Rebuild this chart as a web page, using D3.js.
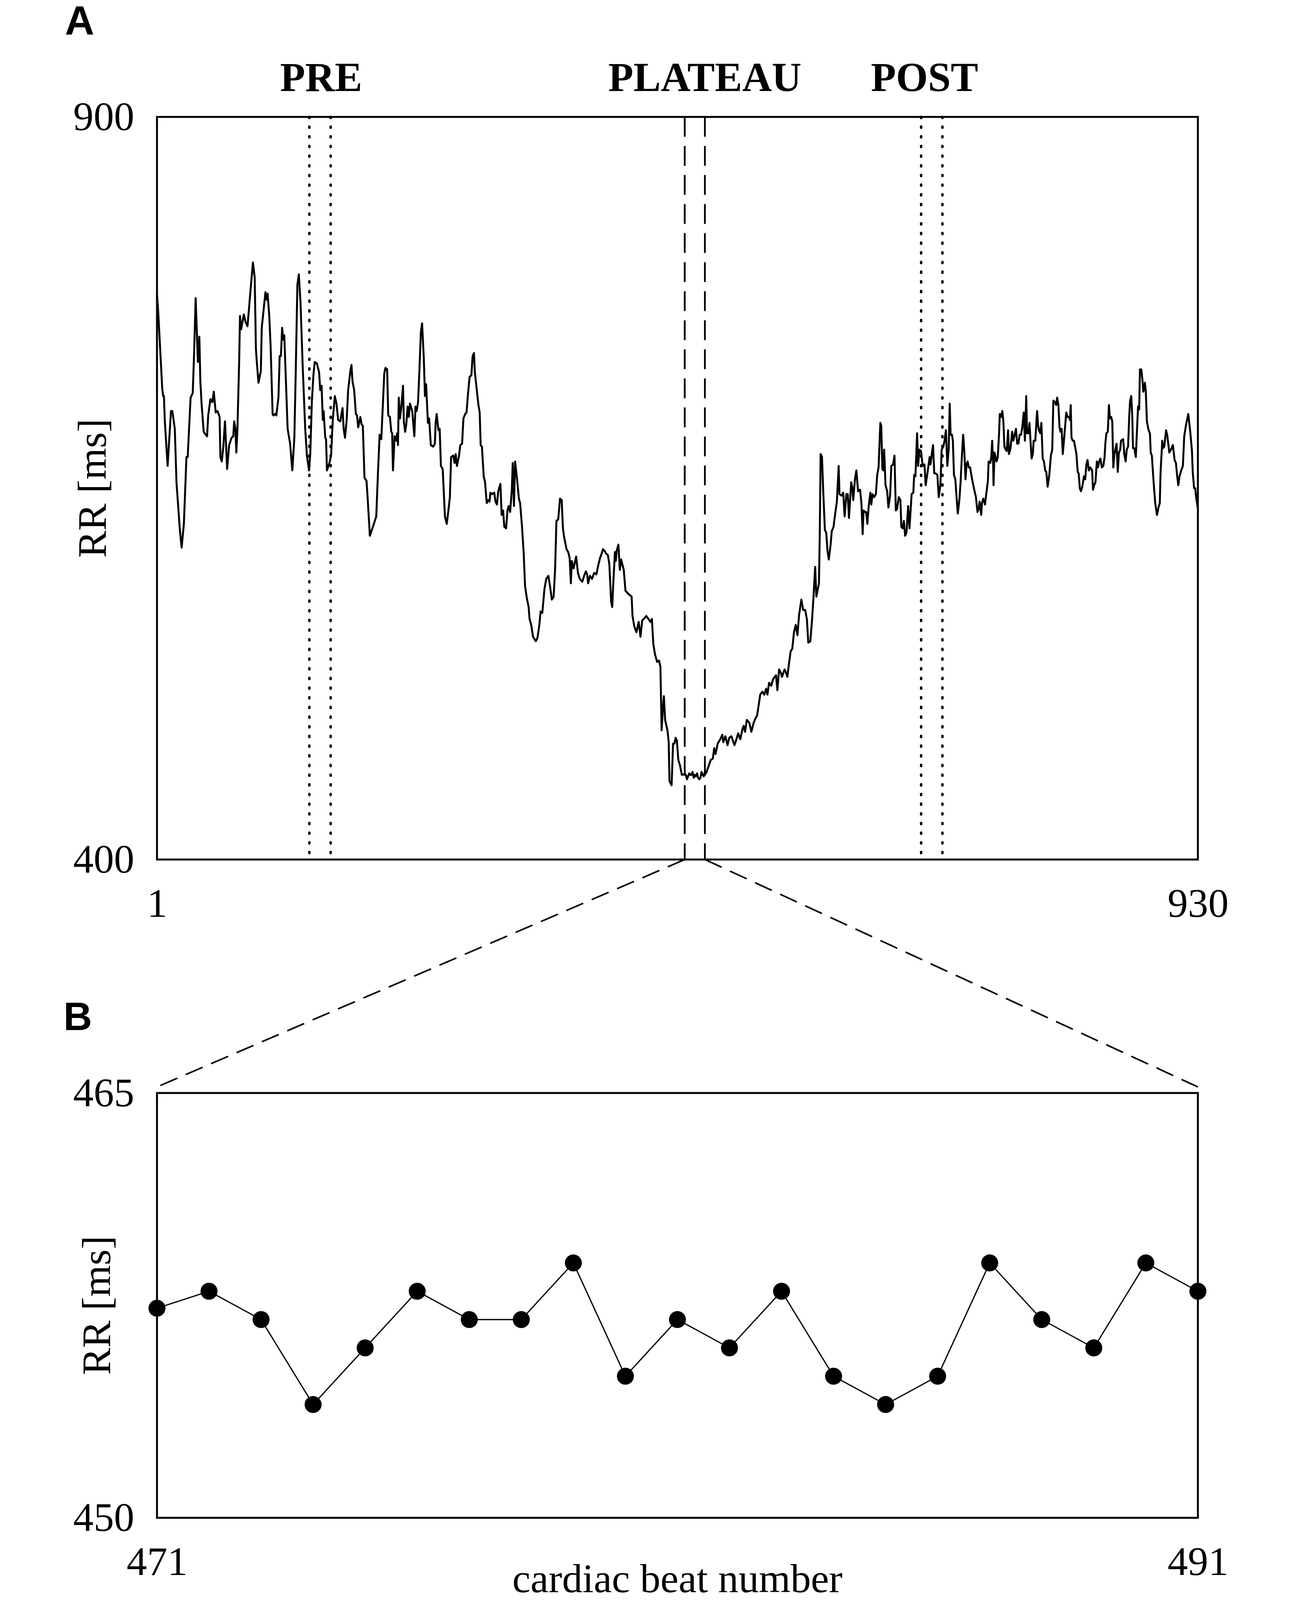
<!DOCTYPE html>
<html>
<head>
<meta charset="utf-8">
<script src="https://d3js.org/d3.v7.min.js"></script>
<style>
html,body{margin:0;padding:0;background:#fff;overflow:hidden;}
#chart{width:100vw;height:100vh;}
svg{display:block;width:100%;height:100%;}
</style>
</head>
<body>
<div id="chart"></div>
<script>
var width=3301;
var height=4516;
var serif='"Liberation Serif","Times New Roman",serif';
var sans='"Liberation Sans",Arial,sans-serif';

// ---------------- data ----------------
var domainBeatA=[1,930];
var domainRRA=[400,900];
var domainBeatB=[471,491];
var domainRRB=[450,465];

var tickBeatA=[1,930];
var tickRRA=[400,900];
var tickBeatB=[471,491];
var tickRRB=[450,465];

var windowNames=["PRE","PLATEAU","POST"];
var windowBeats=[[137,156],[472,490],[683,702]];
var windowStyle=["dot","dash","dot"];
var windowLabelBeat=[147.5,490,686];

// zoom panel B, beat by beat
var beatsB=[471,472,473,474,475,476,477,478,479,480,481,482,483,484,485,486,487,488,489,490,491];
var rrB=[457.4,458,457,454,456,458,457,457,459,455,457,456,458,455,454,455,459,457,456,459,458];

// panel A trace, [beat, RR ms]
var traceA1=[[1,780],[2,770],[5.7,717],[6.5,712],[7.2,712],[8,695],[10.5,665],[13.5,702],[14.7,702],[16.9,690],[18.4,654],[21.4,622],[23,610],[25,626],[27.3,671],[28.4,671],[31,711],[32.9,714],[34.1,740],[35.5,778],[36.7,753],[37.5,735],[38.8,752],[39.7,722],[40.8,707],[42.7,688],[44.5,686],[45.7,685],[46.7,699],[48.7,710],[50.5,708],[51.7,715],[53.4,701],[55,702],[56.9,698],[57.6,671],[58.8,668],[60.2,678],[61.7,695],[63.6,663],[65.4,679],[67.6,684],[69.1,685],[69.9,695],[71,690],[71.8,674],[72.8,690],[74.3,734],[75.1,766],[76.1,757],[78.5,767],[80,762],[81.8,759],[84,779],[86.6,802],[88.2,792],[89.3,744],[90,736],[91.6,721],[93.7,729],[94.5,758],[97.8,782],[98.5,777],[99.7,781],[101.2,766],[102.4,746],[104.2,700],[104.9,699],[106.4,700],[107.5,699],[109.4,711],[110.5,739],[111.6,739],[112.7,758],[113.6,750],[114.6,753],[117.6,690],[119.8,680],[121.8,662],[123.6,684],[124.8,727],[126.3,787],[127.6,794],[129.1,775],[131,733],[133.3,690],[134.8,672],[136.7,662],[137.8,673],[139.2,708],[140.7,727],[141.8,735],[143.7,734],[145.7,728],[146.7,716],[147.9,719],[149,696],[149.7,702],[151.2,684],[151.9,683],[152.7,662],[154.9,667],[156.4,672],[157.9,696],[159.7,712],[161.2,707],[162.7,696],[164.6,695],[166.6,704],[167.6,690],[168.8,684],[170.3,696],[171.6,716],[173.6,729],[174.6,733],[175.5,722],[177,716],[178.5,700],[179.5,699],[180.6,691],[182.5,698],[183.6,693],[184.7,692],[186.2,657],[188,655],[189.2,641],[191,618],[193.7,624],[196.7,631],[198.2,660],[199.7,686],[201.2,683],[202.7,708],[203.8,727],[204.9,731],[206.4,730],[207.4,699],[208.9,698],[210.1,688],[210.9,687],[211.6,662],[213.1,685],[214.6,682],[215.3,687],[216.1,679],[216.8,711],[217.9,697],[219.1,705],[220.6,719],[221.3,695],[222.5,688],[223.5,693],[224.7,705],[225.8,698],[226.8,707],[228.8,702],[230.7,685]];

var traceA2=[[231.7,705],[232.8,702],[234,708],[235.2,729],[236.5,755],[237.6,761],[239.1,738],[240.2,712],[241.2,720],[242.8,694],[243.9,697],[245.4,679],[247.5,678],[249,680],[249.7,694],[250.6,700],[252.2,689],[253.3,690],[254.4,665],[256,663],[258,631],[259.6,626],[261.1,635],[262.4,644],[263.5,671],[265.4,672],[266.6,667],[267.6,673],[268.7,665],[270.6,672],[271.7,679],[273.3,680],[274.5,697],[276.1,700],[277.3,701],[278.4,712],[280,725],[281.6,726],[282.7,739],[283.9,741],[284.7,728],[286.3,717],[287.9,706],[289,701],[289.9,679],[291,678],[292.6,658],[293.8,654],[295.3,640],[296.5,642],[297.8,641],[298.6,647],[300,646],[302,647],[303.1,641],[304.4,639],[305.6,648],[307.5,653],[308.6,632],[309.9,635],[311,624],[312.6,623],[313.8,635],[314.9,638],[316.2,634],[317.7,649],[318.5,667],[319.6,638],[320.6,668],[322.5,655],[324,643],[325.1,640],[326.7,625],[328.3,606],[329.5,584],[331.1,576],[332.7,570],[333.5,562],[335,558],[336.6,550],[339,547],[340.5,549],[342.1,557],[343.4,567],[344.9,566],[346.8,582],[348.4,589],[350.3,591],[351.8,584],[353.4,575],[355,577],[356.3,595],[357.5,628],[359.1,629],[360.7,643],[362.2,642],[363.3,623],[364.4,617],[366.5,609],[368,607],[369.3,603],[370.4,586],[371.2,601],[372.8,596],[375.1,604],[376.7,593],[378.3,589],[380.6,587],[382.2,591],[383.8,594],[384.9,592],[385.8,586],[387.4,591],[389.3,589],[391.2,593],[393.2,592],[394.8,598],[396.4,603],[397.9,606],[399,609],[400.3,608],[401.8,606],[403.4,605],[404.7,599],[406.3,574],[407.3,570],[408.1,584],[409.7,607],[410.5,601],[411.3,608],[412.8,612],[414.1,595],[415.2,602],[417.6,595],[419.1,581],[421.5,579],[423.1,578],[424.6,577],[425.4,564],[427,557],[428.9,553],[430.9,560],[432.5,550],[434.1,561],[435.6,562],[437.7,564],[439.6,562],[441.5,560],[442.7,562],[444,545],[445.5,538],[447.4,533],[449,534],[450.3,530],[451.4,487],[452.5,502],[453.4,510],[454.5,494],[456.6,487],[457.7,479],[458.4,453],[460.3,450],[461.6,478],[462.8,478],[463.9,482],[465,480],[466.3,467],[467.9,463],[469.4,457]];

var traceA3=[[493.4,463],[495.2,467],[497.1,468],[498.3,475],[499.5,471],[501.4,478],[503.7,481],[505.6,484],[506.4,479],[508.3,483],[510.2,477],[511.8,482],[513.6,483],[516.4,477],[518.2,481],[519.7,485],[521.6,481],[523.6,488],[524.6,490],[525.9,486],[527.4,494],[529.7,492],[531.5,486],[533.5,492],[535.1,495],[536.6,497],[537.8,503],[539.4,511],[541.2,513],[543,511],[544.7,515],[545.8,511],[547.3,519],[549.2,517],[550.7,521],[552.2,523],[553.5,524],[554.7,514],[556.2,528],[557.7,526],[558.8,523],[561.1,528],[562.3,526],[563.6,523],[564.9,531],[566.5,540],[568,542],[569.5,553],[571.1,558],[572.6,551],[574.1,565],[576.1,575],[577.7,568],[579.5,568],[581,562],[582.3,546],[584.1,547],[585.6,561],[587.2,580],[588.4,597],[589.5,577],[590.5,581],[591.8,586],[592.5,618],[593.3,673],[594.5,671],[595.6,648],[597.1,622],[598.3,620],[599.4,608],[600.6,602],[602.2,612],[603.2,621],[604.8,624],[606.3,633],[607.8,641],[609.4,665],[610.1,646],[612,645],[613.5,647],[614.7,631],[616.3,646],[617.5,646],[618.6,630],[620.6,654],[621.6,650],[622.4,642],[623.9,656],[625.2,662],[626.7,648],[628.5,649],[629.7,640],[630.8,619],[631.6,635],[632.8,634],[633.9,634],[635,626],[636.2,638],[637.7,647],[638.5,639],[639.6,646],[641.1,644],[642.6,646],[643.8,659],[645,664],[646.6,694],[647.4,692],[648.4,663],[649.2,662],[650,676],[651.2,652],[652.7,648],[653.8,637],[655.3,645],[656.4,665],[658,666],[659.2,672],[660.4,635],[661.5,636],[663,644],[664.5,642],[665.3,624],[666.5,623],[667.6,628],[668.7,618],[669.9,620],[671.4,638],[672.6,623],[674.5,646],[676,647],[676.8,659],[677.9,658],[679.4,687],[680.3,665],[681.4,676],[682.9,675],[684.4,665],[686,666],[687,652],[688.6,660],[690.6,671],[691.3,666],[693.6,679],[694.7,660],[695.9,660],[697.5,659],[698.7,644],[700.2,652],[701.3,676],[702.8,678],[703.9,682]];

var traceA4=[[705.1,689],[706.4,665],[707.6,676],[708.5,707],[709.3,686],[710.5,686],[711.3,682],[712.3,659],[713.5,656],[714.6,644],[715.7,633],[717.1,642],[718.2,654],[719.4,672],[720.5,686],[721.6,674],[722.6,656],[723.5,666],[724.5,668],[725.5,664],[726.7,664],[728.5,656],[730.4,649],[731.9,644],[733.3,634],[734.4,636],[735.2,641],[736.6,632],[737.3,640],[738.5,643],[740,639],[741.1,646],[742.6,655],[743.2,668],[744.7,667],[745.6,671],[746.4,682],[747.3,665],[747.6,652],[748.5,674],[750.3,668],[751.4,671],[752.5,686],[753.2,700],[754.4,698],[755.4,702],[756.4,695],[757.3,678],[758.4,676],[759.4,675],[760.6,689],[761.4,673],[762.8,677],[764.2,688],[765.3,682],[766.5,686],[767.6,690],[768.7,680],[769.8,680],[770.9,686],[772.1,686],[773.1,690],[774.6,701],[775.6,682],[776.8,712],[777.5,687],[778.7,687],[779.7,694],[780.9,678],[781.6,670],[782.7,673],[783.4,682],[784.9,682],[785.6,691],[786.5,702],[787.4,692],[788.2,689],[789.3,687],[790.3,694],[791.5,670],[792.6,668],[793.7,662],[794.7,661],[795.9,651],[797.4,659],[798.8,672],[800,676],[801,709],[802.5,708],[803.5,706],[804.4,711],[805.5,706],[806.5,691],[807.4,688],[808.4,690],[809.4,673],[810.9,686],[812.5,701],[813.6,698],[815,698],[815.8,696],[816.5,706],[817.2,684],[818.3,682],[819.4,682],[821.6,673],[822.7,661],[823.6,660],[824.6,650],[825.6,648],[826.8,651],[828.3,658],[829.4,656],[830.5,666],[831.5,669],[832.7,662],[833.9,664],[835.6,662],[836.4,649],[837.4,652],[838.6,654],[839.8,668],[840.8,664],[841.8,668],[843,670],[844.2,664],[845.6,665],[846.7,671],[847.4,680],[848.3,687],[849.6,688],[850.6,706],[851.5,697],[852.6,698],[853.6,695],[854.5,664],[855.5,673],[857.4,680],[858.5,661],[859.5,674],[860.7,676],[861.4,682],[863.3,683],[864.3,673],[865.5,668],[866.5,676],[867.7,678],[868.8,700],[869.5,709],[870.5,712],[871.4,699],[872.1,677],[873.2,677],[874.6,671],[875.4,685],[876.6,705],[877.6,703],[878.3,730],[879.5,730],[880.5,723],[881.3,715],[882.7,721],[883.5,715],[884.5,695],[886,689],[887.2,687],[887.9,674],[888.9,672],[890.4,655],[891.9,640],[893.5,632],[894.8,637],[896,640],[896.7,661],[898.2,682],[898.9,677],[900,678],[901.6,689],[902.6,686],[904.5,674],[906,676],[907.7,679],[909.2,669],[910.4,667],[911.4,659],[912.5,652],[913.6,658],[915.1,662],[916.6,665],[917.8,685],[919.5,693],[921.4,700],[923.2,688],[924.7,675],[925.4,661],[926.6,650],[927.6,650],[928.4,644],[930,636]];

// plateau beats shared with panel B
var plateauA=beatsB.map(function(b,i){return [b,rrB[i]];});
var traceA=traceA1.concat(traceA2,plateauA,traceA3,traceA4);

// ---------------- layout ----------------
var boxA={left:274,right:3213,top:330,bottom:2426};
var boxB={left:274,right:3213,top:3085,bottom:4284};

var xA=d3.scaleLinear().domain(domainBeatA).range([boxA.left,boxA.right]);
var yA=d3.scaleLinear().domain(domainRRA).range([boxA.bottom,boxA.top]);
var xB=d3.scaleLinear().domain(domainBeatB).range([boxB.left,boxB.right]);
var yB=d3.scaleLinear().domain(domainRRB).range([boxB.bottom,boxB.top]);

// viewBox keeps the whole figure inside whatever viewport we get
var svg=d3.select("#chart").append("svg")
	.attr("viewBox","0 0 "+width+" "+height)
	.attr("preserveAspectRatio","xMidYMin meet");

svg.append("rect").attr("width",width).attr("height",height).attr("fill","#fff");

function styleAxis(g){
	g.select(".domain").remove();
	g.attr("font-family",serif).attr("font-size",115);
	g.selectAll("text").attr("fill","#000");
}

function drawAxes(box,x,y,xt,yt,labelX){
	svg.append("g")
		.attr("transform","translate("+box.left+",0)")
		.call(d3.axisLeft(y).tickValues(yt).tickSize(0).tickPadding(64).tickFormat(d3.format("d")))
		.call(styleAxis);
	svg.append("g")
		.attr("transform","translate(0,"+box.bottom+")")
		.call(d3.axisBottom(x).tickValues(xt).tickSize(0).tickPadding(80).tickFormat(d3.format("d")))
		.call(styleAxis);
	svg.append("text")
		.attr("transform","translate("+labelX+","+((box.top+box.bottom)/2)+") rotate(-90)")
		.attr("text-anchor","middle")
		.attr("font-family",serif)
		.attr("font-size",115)
		.text("RR [ms]");
	svg.append("rect")
		.attr("x",box.left).attr("y",box.top)
		.attr("width",box.right-box.left).attr("height",box.bottom-box.top)
		.attr("fill","none").attr("stroke","#000").attr("stroke-width",5.5);
}

// ---------------- panel A ----------------
svg.append("text").attr("x",14).attr("y",97)
	.attr("font-family",sans).attr("font-weight","bold").attr("font-size",115)
	.text("A");

// window markers
windowBeats.forEach(function(w,i){
	w.forEach(function(b){
		var ln=svg.append("line")
			.attr("x1",xA(b)).attr("x2",xA(b))
			.attr("y1",yA(domainRRA[1])).attr("y2",yA(domainRRA[0]))
			.attr("stroke","#000");
		if (windowStyle[i]==="dot"){
			ln.attr("stroke-width",7).attr("stroke-linecap","round").attr("stroke-dasharray","3,24.3");
		} else {
			ln.attr("stroke-width",5).attr("stroke-dasharray","56,26");
		}
	});
	svg.append("text")
		.attr("x",xA(windowLabelBeat[i])).attr("y",257)
		.attr("text-anchor","middle")
		.attr("font-family",serif).attr("font-weight","bold").attr("font-size",116)
		.text(windowNames[i]);
});

var lineA=d3.line().x(function(d){return xA(d[0]);}).y(function(d){return yA(d[1]);});
svg.append("path").datum(traceA)
	.attr("d",lineA)
	.attr("fill","none").attr("stroke","#000")
	.attr("stroke-width",5.5).attr("stroke-linejoin","round");

drawAxes(boxA,xA,yA,tickBeatA,tickRRA,130);

// zoom connectors from plateau to panel B
var plateau=windowBeats[1];
svg.append("line")
	.attr("x1",xA(plateau[0])).attr("y1",boxA.bottom)
	.attr("x2",boxB.left).attr("y2",boxB.top-17)
	.attr("stroke","#000").attr("stroke-width",4.5).attr("stroke-dasharray","52,26");
svg.append("line")
	.attr("x1",xA(plateau[1])).attr("y1",boxA.bottom)
	.attr("x2",boxB.right).attr("y2",boxB.top-17)
	.attr("stroke","#000").attr("stroke-width",4.5).attr("stroke-dasharray","52,26");

// ---------------- panel B ----------------
svg.append("text").attr("x",10).attr("y",2907)
	.attr("font-family",sans).attr("font-weight","bold").attr("font-size",112)
	.text("B");

var ptsB=beatsB.map(function(b,i){return {beat:b,rr:rrB[i]};});
var lineB=d3.line().x(function(d){return xB(d.beat);}).y(function(d){return yB(d.rr);});

drawAxes(boxB,xB,yB,tickBeatB,tickRRB,142);

svg.append("path").datum(ptsB)
	.attr("d",lineB)
	.attr("fill","none").attr("stroke","#000").attr("stroke-width",3.5);

svg.selectAll("circle.dotB").data(ptsB).enter().append("circle")
	.attr("class","dotB")
	.attr("cx",function(d){return xB(d.beat);})
	.attr("cy",function(d){return yB(d.rr);})
	.attr("r",24)
	.attr("fill","#000");

svg.append("text")
	.attr("x",(boxB.left+boxB.right)/2).attr("y",4494)
	.attr("text-anchor","middle")
	.attr("font-family",serif).attr("font-size",115)
	.text("cardiac beat number");
</script>
</body>
</html>
